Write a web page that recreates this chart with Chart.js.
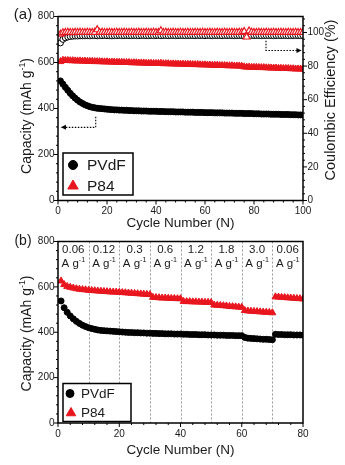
<!DOCTYPE html>
<html>
<head>
<meta charset="utf-8">
<script src="https://cdn.jsdelivr.net/npm/chart.js@4/dist/chart.umd.min.js"></script>
<style>
  body { margin: 0; background: #fff; }
  canvas { display: block; }
</style>
</head>
<body>
<canvas id="chartA" width="345" height="232"></canvas>
<canvas id="chartB" width="345" height="233"></canvas>
<script>
// ---- data, panel (a): cycling at constant rate ----
const cyclesA = [1,2,3,4,5,6,7,8,9,10,11,12,13,14,15,16,17,18,19,20,
  21,22,23,24,25,26,27,28,29,30,31,32,33,34,35,36,37,38,39,40,
  41,42,43,44,45,46,47,48,49,50,51,52,53,54,55,56,57,58,59,60,
  61,62,63,64,65,66,67,68,69,70,71,72,73,74,75,76,77,78,79,80,
  81,82,83,84,85,86,87,88,89,90,91,92,93,94,95,96,97,98,99,100];
const capPVdF_A = [520,506,492,479,466,455,445,436,428,422,416,412,408,405,403,401,400,399,398,397,
  396,395,394,394,393,393,392,392,391,391,390,390,390,389,389,389,388,388,388,388,
  387,387,387,386,386,386,386,385,385,385,385,384,384,384,384,383,383,383,383,382,
  382,382,382,381,381,381,381,380,380,380,380,379,379,379,379,378,378,378,378,377,
  377,377,376,376,376,376,375,375,375,375,374,374,374,374,373,373,373,372,372,372];
const capP84_A = [604,610,609,609,608,608,607,607,607,606,606,605,605,605,604,604,604,603,603,603,
  602,602,602,601,601,601,600,600,600,599,599,599,598,598,598,597,597,597,596,596,
  596,597,595,595,595,594,594,594,593,593,593,592,592,592,591,591,591,590,590,590,
  589,589,588,588,588,587,587,587,586,586,586,585,585,585,584,581,580,580,579,579,
  579,578,578,578,577,577,576,576,576,575,575,574,574,574,573,573,572,572,572,571];
const cePVdF_A = [93.8,95.9,96.8,97.3,97.6,97.8,97.9,97.9,98.0,98.0,
  98.0,98.1,98.0,98.1,98.1,98.0,98.1,98.1,98.2,98.1,
  98.1,98.0,98.1,98.1,98.2,98.1,98.1,98.2,98.1,98.1,
  98.2,98.1,98.1,98.2,98.2,98.1,98.1,98.2,98.1,98.2,
  98.2,98.1,98.2,98.2,98.1,98.2,98.2,98.1,98.2,98.2,
  98.2,98.1,98.2,98.2,98.2,98.1,98.2,98.2,98.2,98.1,
  98.2,98.2,98.1,98.2,98.2,98.2,98.1,98.2,98.2,98.2,
  98.2,98.1,98.2,98.2,98.2,98.0,98.1,98.2,98.2,98.2,
  98.2,98.2,98.1,98.2,98.2,98.2,98.2,98.1,98.2,98.2,
  98.2,98.2,98.2,98.1,98.2,98.2,98.2,98.2,98.1,98.2];
const ceP84_A = [99.0,99.8,100.0,100.1,100.0,99.9,100.1,100.0,100.1,100.0,
  100.0,100.1,100.0,100.0,100.1,101.6,100.0,100.1,100.0,100.0,
  100.1,100.0,100.0,100.1,100.0,100.0,100.1,100.0,100.0,100.1,
  100.0,100.0,100.1,100.0,100.0,100.1,100.0,100.0,100.1,100.0,
  100.0,101.0,100.0,100.1,100.0,100.0,100.1,100.0,100.0,100.1,
  100.0,100.0,100.1,100.0,100.0,100.1,100.0,100.0,100.1,100.0,
  100.0,100.1,100.0,100.0,100.1,100.0,100.0,100.1,100.0,100.0,
  100.1,100.0,100.0,100.1,100.0,100.6,97.3,100.9,100.1,100.0,
  100.0,100.1,100.0,100.0,100.1,100.0,100.0,100.1,100.0,100.0,
  100.1,100.0,100.0,100.1,100.0,100.0,100.1,100.0,100.0,100.1];

// ---- data, panel (b): rate capability ----
const cyclesB = [1,2,3,4,5,6,7,8,9,10,11,12,13,14,15,16,17,18,19,20,
  21,22,23,24,25,26,27,28,29,30,31,32,33,34,35,36,37,38,39,40,
  41,42,43,44,45,46,47,48,49,50,51,52,53,54,55,56,57,58,59,60,
  61,62,63,64,65,66,67,68,69,70,71,72,73,74,75,76,77,78,79,80];
const capPVdF_B = [538,508,488,472,459,448,439,431,425,420,416,413,410,408,407,406,405,404,403,402,
  401,400,399,399,398,398,397,397,396,396,395,395,394,394,393,393,393,392,392,392,
  391,391,390,390,390,389,389,389,388,388,388,387,387,387,386,386,386,385,385,385,
  377,374,373,372,371,370,369,369,368,367,391,390,390,389,389,389,388,388,388,387];
const capP84_B = [626,610,602,598,595,592,590,588,587,585,584,583,582,581,580,579,578,577,577,576,
  575,574,573,572,571,570,569,568,567,566,554,553,552,551,551,550,549,549,548,548,
  536,535,535,534,534,533,533,532,532,531,520,519,518,517,516,514,513,512,511,510,
  496,494,493,492,491,490,489,488,487,486,556,555,554,553,552,551,550,549,548,547];
const rateSteps = [5, 15, 25, 35, 45, 55, 65, 75];
const rateLabels = ['0.06', '0.12', '0.3', '0.6', '1.2', '1.8', '3.0', '0.06'];
const rateBounds = [10, 20, 30, 40, 50, 60, 70];

const RED = '#e8161e';
const INK = '#1a1a1a';
const FONT = '"Liberation Sans", Arial, sans-serif';
const TICK_FONT = '"Liberation Sans Narrow", "Liberation Sans", Arial, sans-serif';

const pts = (xs, ys) => xs.map((x, i) => ({ x: x, y: ys[i] }));

// text with a superscript piece: parts = [[text, isSup], ...]
function supText(ctx, parts, x, y, size) {
  let w = 0;
  parts.forEach(p => {
    ctx.font = (p[1] ? size * 0.62 : size) + 'px ' + FONT;
    w += ctx.measureText(p[0]).width;
  });
  let cx = x - w / 2;
  ctx.textAlign = 'left';
  ctx.textBaseline = 'middle';
  parts.forEach(p => {
    ctx.font = (p[1] ? size * 0.62 : size) + 'px ' + FONT;
    ctx.fillText(p[0], cx, p[1] ? y - size * 0.33 : y);
    cx += ctx.measureText(p[0]).width;
  });
}

function marker(ctx, style, x, y, r, fill, stroke) {
  ctx.beginPath();
  if (style === 'circle') {
    ctx.arc(x, y, r, 0, Math.PI * 2);
  } else {
    ctx.moveTo(x, y - r);
    ctx.lineTo(x + r * 0.866, y + r * 0.5);
    ctx.lineTo(x - r * 0.866, y + r * 0.5);
    ctx.closePath();
  }
  ctx.fillStyle = fill;
  ctx.fill();
  ctx.lineWidth = 1;
  ctx.strokeStyle = stroke;
  ctx.stroke();
}

function drawTicks(ctx, scale, major, minor, side) {
  const n = Math.floor((scale.max - scale.min) / minor + 1e-6);
  ctx.lineWidth = 1;
  ctx.strokeStyle = '#000';
  ctx.beginPath();
  for (let i = 0; i <= n; i++) {
    const v = scale.min + i * minor;
    const len = (Math.abs(v / major - Math.round(v / major)) < 1e-6) ? 4 : 2;
    const p = scale.getPixelForValue(v);
    if (side === 'bottom') { ctx.moveTo(p, scale.top); ctx.lineTo(p, scale.top + len); }
    if (side === 'left') { ctx.moveTo(scale.right, p); ctx.lineTo(scale.right - len, p); }
    if (side === 'right') { ctx.moveTo(scale.left, p); ctx.lineTo(scale.left + len, p); }
  }
  ctx.stroke();
}

function frame(ctx, area) {
  ctx.lineWidth = 1.5;
  ctx.strokeStyle = '#000';
  ctx.strokeRect(area.left, area.top, area.right - area.left, area.bottom - area.top);
}

function dottedArrow(ctx, path, dir) {
  ctx.save();
  ctx.lineWidth = 1.1;
  ctx.strokeStyle = '#000';
  ctx.setLineDash([1.5, 1.5]);
  ctx.beginPath();
  path.forEach((p, i) => i ? ctx.lineTo(p[0], p[1]) : ctx.moveTo(p[0], p[1]));
  ctx.stroke();
  ctx.setLineDash([]);
  const e = path[path.length - 1];
  ctx.fillStyle = '#000';
  ctx.beginPath();
  ctx.moveTo(e[0], e[1]);
  ctx.lineTo(e[0] - dir * 5, e[1] - 2.5);
  ctx.lineTo(e[0] - dir * 5, e[1] + 2.5);
  ctx.closePath();
  ctx.fill();
  ctx.restore();
}

function legendBox(ctx, box, items, size) {
  ctx.save();
  ctx.fillStyle = '#fff';
  ctx.fillRect(box[0], box[1], box[2], box[3]);
  ctx.lineWidth = 1.5;
  ctx.strokeStyle = '#000';
  ctx.strokeRect(box[0], box[1], box[2], box[3]);
  items.forEach(it => {
    marker(ctx, it.style, it.x, it.y, it.r, it.color, it.color);
    ctx.fillStyle = INK;
    ctx.font = size + 'px ' + FONT;
    ctx.textAlign = 'left';
    ctx.textBaseline = 'middle';
    ctx.fillText(it.text, it.tx, it.y + 0.5);
  });
  ctx.restore();
}

const axisTicks = { font: { family: TICK_FONT, size: 10 }, color: INK, maxRotation: 0 };
const noGrid = { display: false, drawTicks: false };

// ---- panel (a) ----
const decorA = {
  id: 'decorA',
  afterDatasetsDraw(chart) {
    const { ctx, chartArea, scales } = chart;
    ctx.save();
    const x = scales.x, y = scales.y, y1 = scales.y1;
    dottedArrow(ctx, [[x.getPixelForValue(15.4), y.getPixelForValue(364)],
      [x.getPixelForValue(15.4), y.getPixelForValue(318)],
      [x.getPixelForValue(1.2), y.getPixelForValue(318)]], -1);
    dottedArrow(ctx, [[x.getPixelForValue(84.9), y1.getPixelForValue(95)],
      [x.getPixelForValue(84.9), y1.getPixelForValue(89.3)],
      [x.getPixelForValue(99.4), y1.getPixelForValue(89.3)]], 1);
    frame(ctx, chartArea);
    drawTicks(ctx, x, 20, 4, 'bottom');
    drawTicks(ctx, y, 200, 40, 'left');
    drawTicks(ctx, y1, 20, 4, 'right');
    ctx.restore();
  },
  afterDraw(chart) {
    const ctx = chart.ctx;
    ctx.save();
    ctx.fillStyle = INK;
    ctx.font = '15px ' + FONT;
    ctx.textAlign = 'center';
    ctx.textBaseline = 'middle';
    ctx.fillText('(a)', 23, 15);
    ctx.translate(27, 116);
    ctx.rotate(-Math.PI / 2);
    supText(ctx, [['Capacity (mAh g', false], ['-1', true], [')', false]], 0, 0, 14);
    ctx.restore();
    ctx.save();
    ctx.fillStyle = INK;
    ctx.translate(331, 100);
    ctx.rotate(-Math.PI / 2);
    supText(ctx, [['Coulombic Efficiency (%)', false]], 0, 0, 14.5);
    ctx.restore();
    legendBox(ctx, [63, 153, 70, 42], [
      { style: 'circle', x: 73, y: 165, r: 4.5, color: '#000', text: 'PVdF', tx: 87 },
      { style: 'triangle', x: 73, y: 186, r: 6, color: RED, text: 'P84', tx: 87 }
    ], 15.5);
  }
};

new Chart(document.getElementById('chartA'), {
  type: 'scatter',
  data: {
    datasets: [
      { label: 'PVdF', data: pts(cyclesA, capPVdF_A), yAxisID: 'y', order: 2,
        pointStyle: 'circle', pointRadius: 3, pointBorderWidth: 1,
        pointBackgroundColor: '#000', pointBorderColor: '#000' },
      { label: 'P84', data: pts(cyclesA, capP84_A), yAxisID: 'y', order: 1,
        pointStyle: 'triangle', pointRadius: 4, pointBorderWidth: 1,
        pointBackgroundColor: RED, pointBorderColor: RED },
      { label: 'PVdF CE', data: pts(cyclesA, cePVdF_A), yAxisID: 'y1', order: 4,
        pointStyle: 'circle', pointRadius: 3, pointBorderWidth: 1,
        pointBackgroundColor: '#fff', pointBorderColor: '#000' },
      { label: 'P84 CE', data: pts(cyclesA, ceP84_A), yAxisID: 'y1', order: 3,
        pointStyle: 'triangle', pointRadius: 4, pointBorderWidth: 1.2,
        pointBackgroundColor: '#fff', pointBorderColor: RED }
    ]
  },
  options: {
    responsive: false,
    animation: false,
    events: [],
    layout: { padding: { top: 16.5, left: 0, right: 0, bottom: 0 } },
    plugins: { legend: { display: false }, tooltip: { enabled: false } },
    scales: {
      x: {
        type: 'linear', min: 0, max: 100,
        ticks: { ...axisTicks, stepSize: 20, padding: 4.5 },
        grid: noGrid, border: { display: false },
        title: { display: true, text: 'Cycle Number (N)', color: INK,
          font: { family: FONT, size: 13.5 }, padding: { top: 0, bottom: 0.6 } },
        afterFit(s) { s.height = 31.5; }
      },
      y: {
        min: 0, max: 800,
        ticks: { ...axisTicks, stepSize: 200, padding: 3.5 },
        grid: noGrid, border: { display: false },
        afterFit(s) { s.width = 58; }
      },
      y1: {
        position: 'right', min: 0, max: 109.5,
        ticks: { ...axisTicks, stepSize: 20, padding: 4.5 },
        afterBuildTicks(s) { s.ticks = s.ticks.filter(t => t.value <= 100); },
        grid: noGrid, border: { display: false },
        afterFit(s) { s.width = 42; }
      }
    }
  },
  plugins: [decorA]
});

// ---- panel (b) ----
const decorB = {
  id: 'decorB',
  beforeDatasetsDraw(chart) {
    const { ctx, chartArea, scales } = chart;
    ctx.save();
    ctx.lineWidth = 1;
    ctx.strokeStyle = '#9a9a9a';
    ctx.setLineDash([2, 2]);
    rateBounds.forEach(v => {
      const px = Math.round(scales.x.getPixelForValue(v)) + 0.5;
      ctx.beginPath();
      ctx.moveTo(px, chartArea.top);
      ctx.lineTo(px, chartArea.bottom);
      ctx.stroke();
    });
    ctx.setLineDash([]);
    ctx.fillStyle = INK;
    rateSteps.forEach((v, i) => {
      const px = scales.x.getPixelForValue(v);
      ctx.font = '11.5px ' + FONT;
      ctx.textAlign = 'center';
      ctx.textBaseline = 'middle';
      ctx.fillText(rateLabels[i], px, 18);
      supText(ctx, [['A g', false], ['-1', true]], px, 32, 11.5);
    });
    ctx.restore();
  },
  afterDatasetsDraw(chart) {
    const { ctx, chartArea, scales } = chart;
    ctx.save();
    frame(ctx, chartArea);
    drawTicks(ctx, scales.x, 20, 4, 'bottom');
    drawTicks(ctx, scales.y, 200, 40, 'left');
    ctx.restore();
  },
  afterDraw(chart) {
    const ctx = chart.ctx;
    ctx.save();
    ctx.fillStyle = INK;
    ctx.font = '14px ' + FONT;
    ctx.textAlign = 'center';
    ctx.textBaseline = 'middle';
    ctx.fillText('(b)', 23, 9);
    ctx.translate(27, 101.5);
    ctx.rotate(-Math.PI / 2);
    supText(ctx, [['Capacity (mAh g', false], ['-1', true], [')', false]], 0, 0, 14);
    ctx.restore();
    legendBox(ctx, [63, 151.5, 68, 38], [
      { style: 'circle', x: 70, y: 161.5, r: 4, color: '#000', text: 'PVdF', tx: 81 },
      { style: 'triangle', x: 71, y: 181, r: 5.5, color: RED, text: 'P84', tx: 81 }
    ], 13.5);
  }
};

new Chart(document.getElementById('chartB'), {
  type: 'scatter',
  data: {
    datasets: [
      { label: 'PVdF', data: pts(cyclesB, capPVdF_B), order: 2,
        pointStyle: 'circle', pointRadius: 3, pointBorderWidth: 1,
        pointBackgroundColor: '#000', pointBorderColor: '#000' },
      { label: 'P84', data: pts(cyclesB, capP84_B), order: 1,
        pointStyle: 'triangle', pointRadius: 4, pointBorderWidth: 1,
        pointBackgroundColor: RED, pointBorderColor: RED }
    ]
  },
  options: {
    responsive: false,
    animation: false,
    events: [],
    layout: { padding: { top: 7, left: 0, right: 42, bottom: 0 } },
    plugins: { legend: { display: false }, tooltip: { enabled: false } },
    scales: {
      x: {
        type: 'linear', min: 0, max: 80,
        ticks: { ...axisTicks, stepSize: 20, padding: 5 },
        grid: noGrid, border: { display: false },
        title: { display: true, text: 'Cycle Number (N)', color: INK,
          font: { family: FONT, size: 13.5 }, padding: { top: 0, bottom: 6.6 } },
        afterFit(s) { s.height = 42; }
      },
      y: {
        min: 0, max: 800,
        ticks: { ...axisTicks, stepSize: 200, padding: 3.5 },
        grid: noGrid, border: { display: false },
        afterFit(s) { s.width = 58; }
      }
    }
  },
  plugins: [decorB]
});
</script>
</body>
</html>
